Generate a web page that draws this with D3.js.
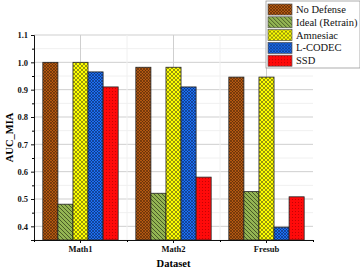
<!DOCTYPE html>
<html>
<head>
<meta charset="utf-8">
<script src="https://cdn.jsdelivr.net/npm/d3@7"></script>
<style>
  body { margin: 0; background: #fff; }
  svg { display: block; }
</style>
</head>
<body>
<svg id="chart" width="360" height="275"></svg>
<script>
// data
const datasets = ['Math1', 'Math2', 'Fresub'];
const methods = ['No Defense', 'Ideal (Retrain)', 'Amnesiac', 'L-CODEC', 'SSD'];
const noDefense = [1.0, 0.982, 0.946];
const idealRetrain = [0.481, 0.521, 0.527];
const amnesiac = [1.0, 0.982, 0.946];
const lCodec = [0.965, 0.91, 0.397];
const ssd = [0.91, 0.58, 0.508];
const yTicks = [0.4, 0.5, 0.6, 0.7, 0.8, 0.9, 1.0, 1.1];

const seriesVals = [noDefense, idealRetrain, amnesiac, lCodec, ssd];
const serif = 'Liberation Serif, Times New Roman, Times, serif';

const svg = d3.select('#chart').attr('font-family', serif);
const plotL = 34, plotR = 313, plotT = 35, plotB = 240;

const x = d3.scaleBand().domain(datasets).range([plotL, plotR]);
const bw = x.bandwidth();
const groupW = bw * 0.81;
const xi = d3.scaleBand().domain(methods).range([(bw - groupW) / 2, (bw + groupW) / 2]);
const y = d3.scaleLinear().domain([0.35, 1.1]).range([plotB, plotT]);

// patterns
const defs = svg.append('defs');
function linePattern(id, bg, size, paths, stroke, sw) {
  const p = defs.append('pattern').attr('id', id).attr('patternUnits', 'userSpaceOnUse')
    .attr('width', size).attr('height', size);
  p.append('rect').attr('width', size).attr('height', size).attr('fill', bg);
  paths.forEach(d => p.append('path').attr('d', d).attr('stroke', stroke)
    .attr('stroke-width', sw).attr('fill', 'none'));
}
linePattern('pNo', '#b35812', 3, ['M-1,1 L1,-1 M0,3 L3,0 M2,4 L4,2', 'M0,0 L3,3'], '#4a2206', 0.55);
linePattern('pIdeal', '#93b553', 4, ['M-1,-1 L5,5 M-1,3 L1,5 M3,-1 L5,1'], '#36441a', 0.8);
linePattern('pAmn', '#ffff00', 4, ['M0,0 L4,4 M4,0 L0,4'], '#6a6a10', 0.7);
linePattern('pLc', '#1d6ff2', 3, ['M0,0 L3,3 M3,0 L0,3'], '#0a2a66', 0.6);
(function () {
  const p = defs.append('pattern').attr('id', 'pSsd').attr('patternUnits', 'userSpaceOnUse')
    .attr('width', 3).attr('height', 3);
  p.append('rect').attr('width', 3).attr('height', 3).attr('fill', '#ff0a0a');
  p.append('rect').attr('x', 1).attr('y', 1).attr('width', 0.8).attr('height', 0.8).attr('fill', '#a00000');
})();
const fills = ['url(#pNo)', 'url(#pIdeal)', 'url(#pAmn)', 'url(#pLc)', 'url(#pSsd)'];

// grid
const grid = svg.append('g');
d3.range(0.35, 1.1001, 0.05).forEach(v => {
  const major = Math.abs(v * 10 - Math.round(v * 10)) < 1e-6;
  grid.append('line').attr('x1', plotL).attr('x2', plotR).attr('y1', y(v)).attr('y2', y(v))
    .attr('stroke', major ? '#cfcfcf' : '#f0f0f0').attr('stroke-width', 1);
});
datasets.forEach((d, i) => {
  grid.append('line').attr('x1', x(d) + bw / 2).attr('x2', x(d) + bw / 2)
    .attr('y1', plotT).attr('y2', plotB).attr('stroke', '#cfcfcf');
  if (i > 0) grid.append('line').attr('x1', x(d)).attr('x2', x(d))
    .attr('y1', plotT).attr('y2', plotB).attr('stroke', '#f0f0f0');
});

// bars
methods.forEach((m, si) => {
  svg.append('g').selectAll('rect').data(seriesVals[si]).join('rect')
    .attr('x', (v, i) => x(datasets[i]) + xi(m))
    .attr('width', xi.bandwidth())
    .attr('y', v => y(v))
    .attr('height', v => plotB - y(v))
    .attr('fill', fills[si])
    .attr('stroke', '#222').attr('stroke-width', 0.8);
});

// axes
const yAxis = svg.append('g').attr('transform', `translate(${plotL},0)`)
  .call(d3.axisLeft(y).tickValues(yTicks).tickFormat(d3.format('.1f')).tickSize(3).tickPadding(3));
svg.append('g').attr('transform', `translate(${plotL},0)`)
  .call(d3.axisLeft(y).tickValues(d3.range(0.45, 1.1, 0.1)).tickFormat('').tickSize(2))
  .call(g => g.select('.domain').remove());
const xAxis = svg.append('g').attr('transform', `translate(0,${plotB})`)
  .call(d3.axisBottom(x).tickSize(3).tickPadding(3).tickSizeOuter(0));
svg.append('g').attr('transform', `translate(0,${plotB})`)
  .call(d3.axisBottom(d3.scalePoint().domain([0, 1, 2, 3]).range([plotL, plotR]))
    .tickFormat('').tickSize(2).tickSizeOuter(0))
  .call(g => g.select('.domain').remove());
[yAxis, xAxis].forEach(g => {
  g.attr('font-family', serif);
  g.selectAll('text').attr('font-family', serif).attr('font-weight', 'bold')
    .attr('font-size', 8.5).attr('fill', '#111');
  g.selectAll('line,path').attr('stroke', '#111');
});

// titles
svg.append('text').attr('x', (plotL + plotR) / 2).attr('y', 267).attr('text-anchor', 'middle')
  .attr('font-family', serif).attr('font-size', 10.5).attr('font-weight', 'bold').text('Dataset');
svg.append('text').attr('transform', `translate(13,${(plotT + plotB) / 2}) rotate(-90)`)
  .attr('font-family', serif).attr('text-anchor', 'middle').attr('font-size', 10.5)
  .attr('font-weight', 'bold').text('AUC_MIA');

// legend
const lg = svg.append('g').attr('transform', 'translate(266,1)');
lg.append('rect').attr('width', 94).attr('height', 67).attr('fill', '#fff')
  .attr('stroke', '#999').attr('stroke-width', 0.8);
methods.forEach((m, i) => {
  const row = lg.append('g').attr('transform', `translate(2,${3 + i * 12.8})`);
  row.append('rect').attr('width', 24).attr('height', 11).attr('fill', fills[i])
    .attr('stroke', '#555').attr('stroke-width', 0.7);
  row.append('text').attr('x', 28).attr('y', 9).attr('font-family', serif)
    .attr('font-size', 10.5).attr('fill', '#111').text(m);
});
</script>
</body>
</html>
